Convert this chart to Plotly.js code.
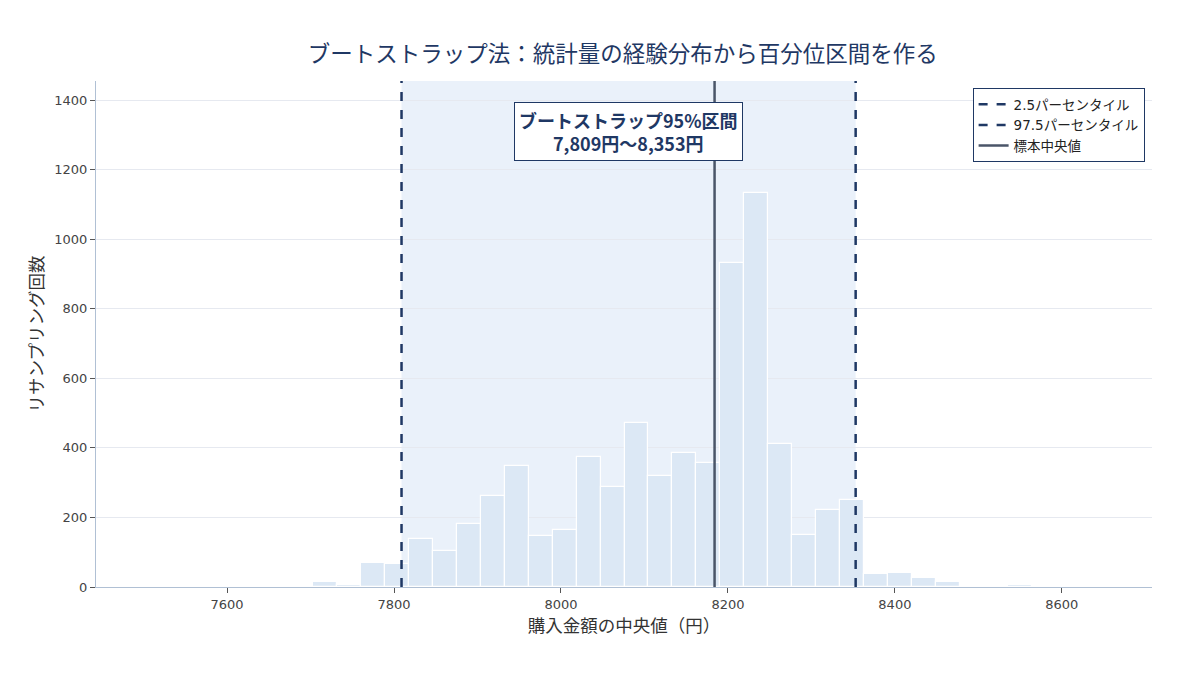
<!DOCTYPE html>
<html>
<head>
<meta charset="utf-8">
<script src="https://cdn.plot.ly/plotly-3.0.1.min.js"></script>
<style>
  html, body { margin: 0; padding: 0; background: #fff; }
  #chart { width: 1200px; height: 675px; }
</style>
</head>
<body>
<div id="chart"></div>
<script>
// histogram of bootstrap medians (30 bins)
var binStart = 7703;
var binWidth = 28.7;
var counts = [13, 6, 69, 67, 137, 104, 182, 261, 347, 146,
              163, 373, 289, 473, 318, 384, 358, 933, 1134, 410,
              150, 222, 251, 37, 40, 27, 14, 0, 0, 5];

var lower = 7809;   // 2.5 percentile
var upper = 8353;   // 97.5 percentile
var median = 8184;  // sample median

var lineNames = ['2.5パーセンタイル', '97.5パーセンタイル', '標本中央値'];

var binCenters = [];
for (var i = 0; i < counts.length; i++) {
    binCenters.push(binStart + binWidth * (i + 0.5));
}

var navy = '#1f3864';
var font = 'DejaVu Sans, Noto Sans CJK JP, sans-serif';
var jp = 'Noto Sans CJK JP, sans-serif';

var hist = {
    x: binCenters,
    y: counts,
    width: binWidth,
    type: 'bar',
    showlegend: false,
    marker: { color: '#dce8f5', line: { color: '#ffffff', width: 1.2 } },
    hoverinfo: 'x+y'
};

function vline(xv, name, dash, color) {
    return {
        x: [xv, xv], y: [0, 1],
        yaxis: 'y2',
        type: 'scatter', mode: 'lines',
        name: name,
        line: { color: color, width: 2.5, dash: dash }
    };
}

var data = [
    hist,
    vline(lower, lineNames[0], 'dash', navy),
    vline(upper, lineNames[1], 'dash', navy),
    vline(median, lineNames[2], 'solid', '#4a5568')
];

var layout = {
    width: 1200, height: 675,
    font: { family: font, color: '#333' },
    paper_bgcolor: '#ffffff',
    plot_bgcolor: '#ffffff',
    margin: { l: 96, r: 48, t: 81, b: 88 },
    title: {
        text: 'ブートストラップ法：統計量の経験分布から百分位区間を作る',
        x: 0.519, xanchor: 'center', y: 0.92, yanchor: 'middle',
        font: { family: jp, size: 22.5, color: navy }
    },
    bargap: 0,
    xaxis: {
        range: [7443, 8708],
        tickvals: [7600, 7800, 8000, 8200, 8400, 8600],
        showgrid: false, zeroline: false,
        showline: true, linecolor: '#b0c0d4', linewidth: 1,
        ticks: 'outside', ticklen: 5, tickcolor: '#555',
        tickfont: { size: 13, color: '#444' },
        title: { text: '購入金額の中央値（円）', standoff: 8,
                 font: { family: jp, size: 17.5, color: '#333' } }
    },
    yaxis: {
        range: [0, 1455],
        tickvals: [0, 200, 400, 600, 800, 1000, 1200, 1400],
        showgrid: true, gridcolor: '#e6e9f0', zeroline: false,
        showline: true, linecolor: '#b0c0d4', linewidth: 1,
        ticks: 'outside', ticklen: 5, tickcolor: '#555',
        tickfont: { size: 13, color: '#444' },
        title: { text: 'リサンプリング回数', standoff: 6,
                 font: { family: jp, size: 17.5, color: '#333' } }
    },
    yaxis2: {
        overlaying: 'y', range: [0, 1], visible: false, fixedrange: true
    },
    shapes: [{
        type: 'rect', layer: 'below',
        xref: 'x', yref: 'paper',
        x0: lower, x1: upper, y0: 0, y1: 1,
        fillcolor: '#eaf1fa', line: { width: 0 }
    }],
    annotations: [{
        xref: 'x', yref: 'paper',
        x: (lower + upper) / 2, y: 0.9, yanchor: 'middle',
        text: '<b>ブートストラップ95%区間<br>7,809円〜8,353円</b>',
        showarrow: false,
        font: { family: jp, size: 18, color: navy },
        bgcolor: '#ffffff', bordercolor: navy, borderwidth: 1, borderpad: 4
    }],
    legend: {
        x: 0.993, xanchor: 'right', y: 0.986, yanchor: 'top',
        bgcolor: '#ffffff', bordercolor: navy, borderwidth: 1,
        font: { size: 13.5, color: '#222' },
        tracegroupgap: 0
    }
};

Plotly.newPlot('chart', data, layout, { displayModeBar: false });
</script>
</body>
</html>
